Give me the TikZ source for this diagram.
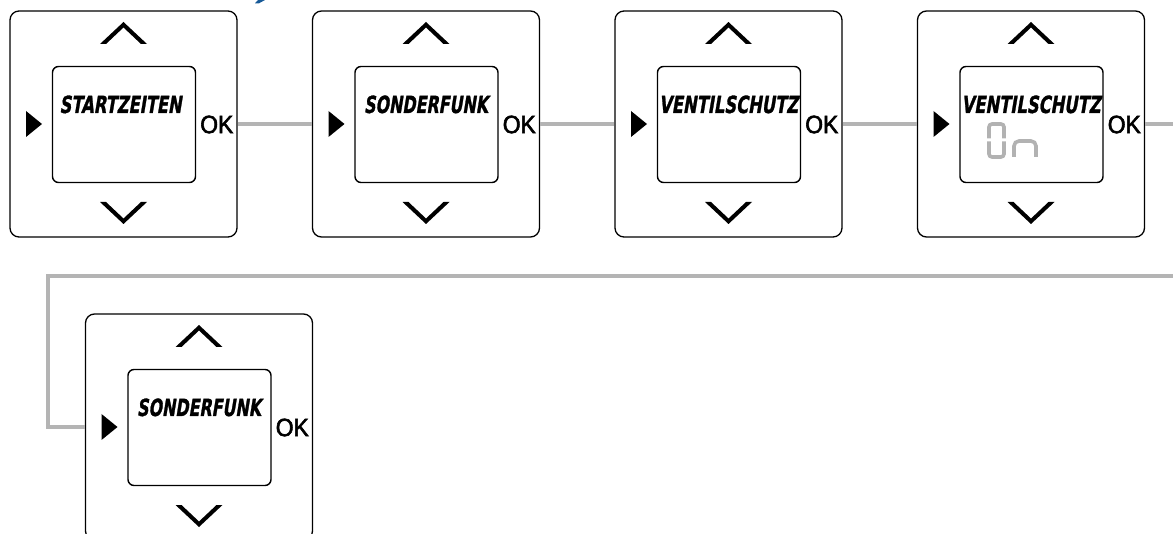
\documentclass[tikz,border=0pt]{standalone}
\usepackage{fontspec}
\usepackage{graphicx}
\newfontfamily\okfont{Liberation Sans}[FakeBold=2.5]
\newfontfamily\lcdfont{DejaVu Sans}[FakeSlant=0.24, FakeBold=1.5]
\definecolor{conngray}{RGB}{180,180,180}
\definecolor{seggray}{RGB}{178,178,178}
\definecolor{headblue}{RGB}{24,90,152}
\tikzset{
  outerbox/.style={draw=black, line width=1.3pt, rounded corners=9pt, minimum width=227pt, minimum height=226pt, inner sep=0pt},
  screen/.style={draw=black, line width=1.4pt, rounded corners=6pt, minimum width=143pt, minimum height=116pt, inner sep=0pt},
  chev/.style={fill=black},
  okstyle/.style={inner sep=0pt, anchor=east},
  lcd/.style={inner sep=0pt, anchor=base},
  conn/.style={draw=conngray, line width=4pt},
  seg/.style={draw=seggray, line width=3.6pt, rounded corners=3pt},
}
\newcommand\lcdpanel[6]{%
  \begin{scope}[shift={(#2,#3)}]
    \node[outerbox] (#1) at (0,0) {};
    \node[screen] (#1-scr) at (0.5,0.5) {};
    \fill[chev] (-23.5,-80) -- (0,-102) -- (23.5,-80) -- (17.5,-80) -- (0,-96.5) -- (-17.5,-80) -- cycle;
    \fill[chev] (-23.5,78) -- (0,100) -- (23.5,78) -- (17.5,78) -- (0,94.5) -- (-17.5,78) -- cycle;
    \fill[black] (-97.5,-13) -- (-97.5,13) -- (-81.5,0) -- cycle;
    \node[okstyle] (#1-ok) at (110,0.5) {\resizebox{33pt}{17.5pt}{\okfont OK}};
    \node[lcd] (#1-txt) at (#6,-11) {\resizebox{#5pt}{17.5pt}{\lcdfont\bfseries #4}};
  \end{scope}}
\begin{document}
\begin{tikzpicture}[x=1pt,y=-1pt]
  \useasboundingbox (0,0) rectangle (1173,534);
  % heading fragment
  \fill[headblue] (258,0) -- (265,0) -- (259,3.3) -- (255,3.3) -- cycle;
  % panels
  \lcdpanel{p1}{123.5}{124}{STARTZEITEN}{122}{-3}
  \lcdpanel{p2}{426}{124}{SONDERFUNK}{124}{0}
  \lcdpanel{p3}{728.5}{124}{VENTILSCHUTZ}{139}{0}
  \lcdpanel{p4}{1031}{124}{VENTILSCHUTZ}{139}{0}
  \lcdpanel{p5}{199}{427}{SONDERFUNK}{124}{0}
  % "On" value in 7-segment style
  \begin{scope}[shift={(1031,124)}]
    \draw[seg] (-42,14.5) -- (-42,0) -- (-27,0) -- (-27,14.5);
    \draw[seg] (-42,17.5) -- (-42,33) -- (-27,33) -- (-27,17.5);
    \draw[seg, rounded corners=5pt] (-17,33) -- (-17,17) -- (5,17) -- (5,33);
  \end{scope}
  % connectors
  \coordinate (offR) at (1190,124);
  \coordinate (offR2) at (1190,276);
  \coordinate (turn1) at (48,276);
  \draw[conn] (p1.east) -- (p2.west);
  \draw[conn] (p2.east) -- (p3.west);
  \draw[conn] (p3.east) -- (p4.west);
  \draw[conn] (p4.east) -- (offR);
  \draw[conn] (offR2) -- (turn1) |- (p5.west);
\end{tikzpicture}
\end{document}
